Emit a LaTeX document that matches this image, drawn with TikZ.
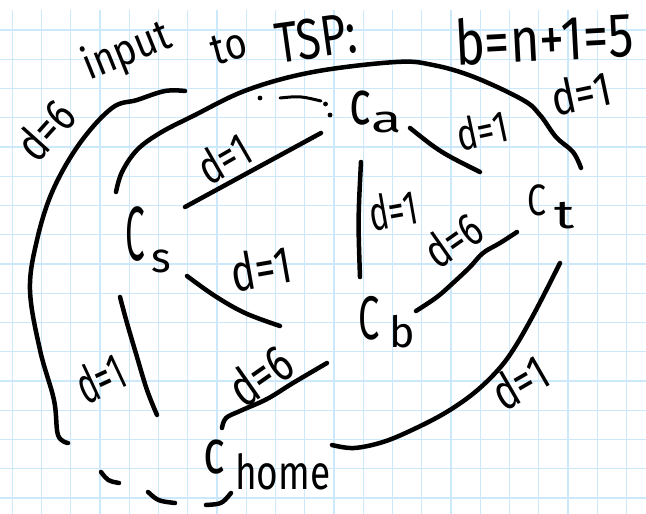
\documentclass[tikz,border=0pt]{standalone}
\usepackage{fontspec}
\setmainfont{Fira Sans}
\definecolor{gridblue}{RGB}{204,232,251}
\newcommand\hs[4]{\scalebox{#2}[#3]{\fontsize{#1}{#1}\selectfont #4}}
\tikzset{
  stroke/.style={line width=4.5pt, line cap=round, line join=round},
  lbl/.style={inner sep=0pt, font=\fontsize{#1}{#1}\selectfont},
  gridline/.style={gridblue, line width=1.3pt},
}
\begin{document}
\begin{tikzpicture}[x=1pt,y=-1pt]
\useasboundingbox (0,0) rectangle (646,514);
\fill[white] (0,0) rectangle (646,514);
% grid paper
\foreach \k in {0,...,16} \draw[gridline] (0,30+29.25*\k) -- (646,30+29.25*\k);
\foreach \k in {0,...,21} \draw[gridline] (12.3+29.25*\k,10) -- (12.3+29.25*\k,514);

% vertices
\node[inner sep=0pt] (cs) at (148,240) {\hs{64}{0.55}{1.2}{C}\kern6pt\raisebox{-12pt}{\hs{42}{1}{1}{s}}};
\node[inner sep=0pt] (ca) at (376,112) {\hs{48}{0.95}{1.3}{c}\raisebox{-8pt}{\hs{40}{1.4}{0.95}{a}}};
\node[inner sep=0pt] (ct) at (551,207) {\hs{44}{0.77}{1}{C}\kern8pt\raisebox{-13pt}{\hs{40}{1.4}{1}{t}}};
\node[inner sep=0pt] (cb) at (387,322) {\hs{56}{0.68}{1.1}{C}\kern10pt\raisebox{-8pt}{\hs{43}{1}{1}{b}}};
\node[inner sep=0pt] (chome) at (267,465) {\hs{48}{0.95}{1.3}{c}\kern10pt\raisebox{-16pt}{\hs{37}{1}{1.3}{home}}};

% header text
\node[lbl=38, rotate=22] (tinput) at (127,52) {\scalebox{1}[1.15]{input}};
\node[lbl=38, rotate=15] (tto) at (229,47) {\scalebox{1}[1.15]{to}};
\node[lbl=44, rotate=8] (ttsp) at (316,38) {\scalebox{1}[1.3]{TSP:}};
\node[lbl=48, rotate=3] (tb) at (544,38) {\scalebox{1.05}[1.3]{b=n+1=5}};

% edge labels
\node[lbl=38, rotate=48] (ld6a) at (45,130) {\scalebox{1}[1.25]{d=6}};
\node[lbl=40, rotate=12] (ld1top) at (581,93) {\scalebox{1}[1.2]{d=1}};
\node[lbl=36, rotate=30] (ld1sa) at (224,158) {\scalebox{1}[1.3]{d=1}};
\node[lbl=34, rotate=12] (ld1at) at (482,130) {\scalebox{1}[1.3]{d=1}};
\node[lbl=32, rotate=10] (ld1ab) at (393,210) {\scalebox{1}[1.5]{d=1}};
\node[lbl=36, rotate=35] (ld6bt) at (453,240) {\scalebox{1}[1.3]{d=6}};
\node[lbl=40, rotate=10] (ld1sb) at (261,268) {\scalebox{1}[1.3]{d=1}};
\node[lbl=32, rotate=25] (ld1left) at (100,378) {\scalebox{1}[1.6]{d=1}};
\node[lbl=40, rotate=35] (ld6hb) at (260,375) {\scalebox{1}[1.3]{d=6}};
\node[lbl=38, rotate=30] (ld1ht) at (520,382) {\scalebox{1}[1.3]{d=1}};

% edge c_home -- c_a (d=6), around the left, partly dashed
\coordinate (a1) at (185,91);
\coordinate (a2) at (68,443);
\draw[stroke] plot[smooth, tension=0.6] coordinates {(a1) (165,91) (137,100) (112,108) (80,143) (53,190) (37,240) (30,290) (40,350) (54,400) (58,435) (a2)};
\fill (260,98) circle (2.4);
\draw[stroke, line width=3pt] (280,98) .. controls (300,96) .. (321,101);
\fill (325.5,104) circle (2.4);
\fill (330,115) circle (2.4);
\draw[stroke] (101,472) .. controls (108,481) .. (119,483);
\draw[stroke] (148,492) .. controls (158,501) .. (175,503);
\draw[stroke] (206,505) .. controls (222,504) .. (231,493);

% edge c_s -- c_t (d=1), big arc over the top
\coordinate (b1) at (116,192);
\coordinate (b2) at (581,168);
\draw[stroke] plot[smooth, tension=0.6] coordinates {(b1) (122,172) (137,150) (160,133) (193,116) (247,90) (313,72) (396,62) (433,65) (474,77) (523,100) (540,115) (556,137) (573,152) (b2)};

% edge c_s -- c_a (d=1)
\coordinate (c1) at (185,207);
\coordinate (c2) at (321,133);
\draw[stroke] (c1) -- (c2);

% edge c_a -- c_t (d=1)
\coordinate (d1) at (410,128);
\coordinate (d2) at (480,172);
\draw[stroke] (d1) .. controls (440,152) .. (d2);

% edge c_a -- c_b (d=1)
\coordinate (e1) at (361,162);
\coordinate (e2) at (360,277);
\draw[stroke] (e1) .. controls (358,220) .. (e2);

% edge c_b -- c_t (d=6)
\coordinate (f1) at (416,311);
\coordinate (f2) at (517,232);
\draw[stroke] plot[smooth, tension=0.6] coordinates {(f1) (437,297) (453,283) (470,267) (483,253) (500,243) (f2)};

% edge c_s -- c_home (d=1), left
\coordinate (g1) at (120,297);
\coordinate (g2) at (157,415);
\draw[stroke] plot[smooth, tension=0.6] coordinates {(g1) (127,323) (137,357) (147,390) (g2)};

% edge c_s -- c_b (d=1)
\coordinate (h1) at (187,276);
\coordinate (h2) at (280,326);
\draw[stroke] plot[smooth, tension=0.6] coordinates {(h1) (215,296) (245,313) (h2)};

% edge c_home -- c_b (d=6)
\coordinate (i1) at (222,428);
\coordinate (i2) at (327,363);
\draw[stroke] plot[smooth, tension=0.6] coordinates {(i1) (226,418) (240,411) (267,399) (293,383) (i2)};

% edge c_home -- c_t (d=1)
\coordinate (j1) at (332,445);
\coordinate (j2) at (560,263);
\draw[stroke] plot[smooth, tension=0.6] coordinates {(j1) (354,448) (383,442) (412,430) (445,413) (474,393) (498,370) (515,347) (536,310) (j2)};
\end{tikzpicture}
\end{document}
